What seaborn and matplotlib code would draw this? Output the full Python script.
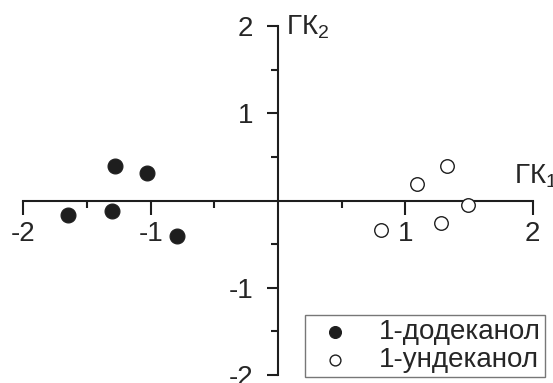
import numpy as np
import pandas as pd
import matplotlib
matplotlib.use("Agg")
import matplotlib.pyplot as plt
import seaborn as sns

dodecanol_x = [-1.65, -1.30, -1.28, -1.03, -0.79]
dodecanol_y = [-0.17, -0.12, 0.39, 0.31, -0.41]
undecanol_x = [0.81, 1.09, 1.33, 1.28, 1.49]
undecanol_y = [-0.34, 0.19, 0.39, -0.26, -0.05]
series_names = ["1-додеканол", "1-ундеканол"]
x_ticks = [-2, -1, 1, 2]
y_ticks = [-2, -1, 1, 2]

df = pd.DataFrame({
    "x": dodecanol_x + undecanol_x,
    "y": dodecanol_y + undecanol_y,
    "group": [series_names[0]] * len(dodecanol_x) + [series_names[1]] * len(undecanol_x),
})

sns.set_style("ticks")
plt.rcParams["font.family"] = ["Liberation Sans", "DejaVu Sans"]
plt.rcParams["mathtext.fontset"] = "custom"
plt.rcParams["mathtext.rm"] = "Liberation Sans"
plt.rcParams["mathtext.it"] = "Liberation Sans"

FS = 20

fig = plt.figure(figsize=(5.53, 3.83), dpi=100)
ax = fig.add_axes([23.3 / 553, 8 / 383, (532.7 - 23.3) / 553, (357 - 8) / 383])

g1 = df[df["group"] == series_names[0]]
g2 = df[df["group"] == series_names[1]]
sns.scatterplot(data=g1, x="x", y="y", ax=ax, color="#1e1e1e", edgecolor="#1e1e1e",
                s=115, linewidth=0.8, label=series_names[0], clip_on=False, zorder=3)
sns.scatterplot(data=g2, x="x", y="y", ax=ax, color="white", edgecolor="#1e1e1e",
                s=95, linewidth=1.0, label=series_names[1], clip_on=False, zorder=3)

ax.set_xlim(-2, 2)
ax.set_ylim(-2, 2)
ax.set_xlabel("")
ax.set_ylabel("")

# оси через начало координат
ax.spines["left"].set_position(("data", 0))
ax.spines["bottom"].set_position(("data", 0))
ax.spines["top"].set_visible(False)
ax.spines["right"].set_visible(False)
for sp in ["left", "bottom"]:
    ax.spines[sp].set_linewidth(1.5)
    ax.spines[sp].set_color("#1e1e1e")

ax.set_xticks(x_ticks)
ax.set_xticklabels([str(t) for t in x_ticks])
ax.set_yticks(y_ticks)
ax.set_yticklabels([str(t) for t in y_ticks])
ax.set_xticks([-1.5, -0.5, 0.5, 1.5], minor=True)
ax.set_yticks([-1.5, -0.5, 0.5, 1.5], minor=True)

ax.tick_params(axis="x", which="major", direction="out", length=10, width=1.5,
               pad=5, labelsize=FS, color="#1e1e1e")
ax.tick_params(axis="x", which="minor", direction="out", length=5, width=1.5, color="#1e1e1e")
ax.tick_params(axis="y", which="major", direction="out", length=8, width=1.5,
               pad=10, labelsize=FS, color="#1e1e1e")
ax.tick_params(axis="y", which="minor", direction="out", length=5, width=1.5, color="#1e1e1e")

# подписи осей
ax.text(1.85, 0.2, "ГК$_1$", fontsize=FS, ha="left", va="baseline", clip_on=False)
ax.text(0.06, 1.9, "ГК$_2$", fontsize=FS, ha="left", va="baseline", clip_on=False)

leg = ax.legend(loc="lower right", bbox_to_anchor=(545 / 553, 6 / 383),
                bbox_transform=fig.transFigure, frameon=True, fancybox=False,
                fontsize=FS, markerscale=0.8, handletextpad=0.7,
                borderpad=0.15, labelspacing=0.05, handlelength=1.8, borderaxespad=0)
leg.get_frame().set_edgecolor("#555555")
leg.get_frame().set_linewidth(1.0)

fig.savefig("out.png", dpi=100)
